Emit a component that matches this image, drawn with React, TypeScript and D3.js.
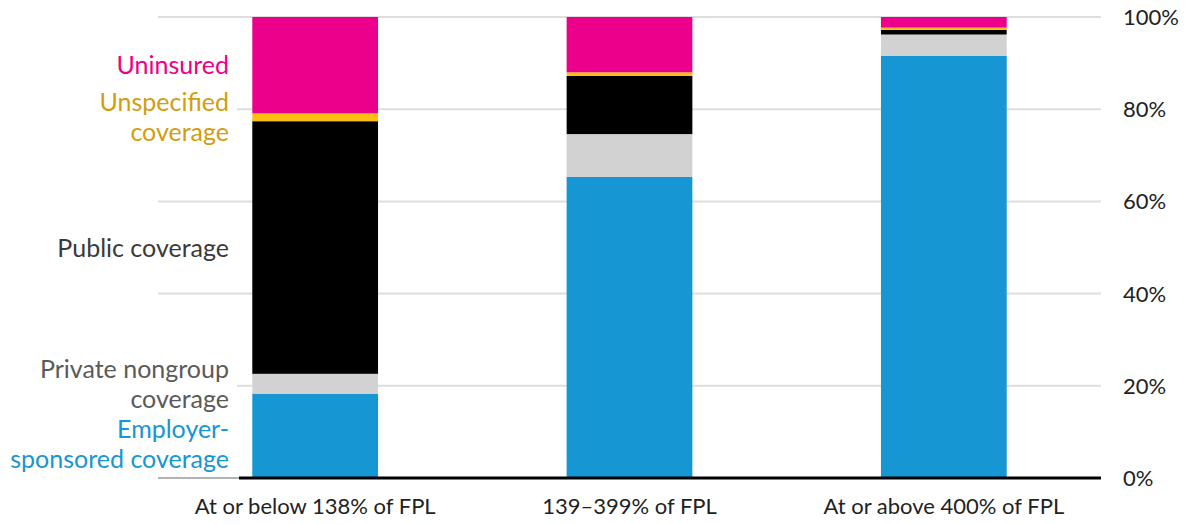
import React from 'react';
import * as d3 from 'd3';

const categories = ['At or below 138% of FPL', '139–399% of FPL', 'At or above 400% of FPL'];
const employer = [18.3, 65.3, 91.6];
const nongroup = [4.3, 9.3, 4.6];
const publicCov = [54.8, 12.6, 1.0];
const unspecified = [1.7, 0.8, 0.5];
const uninsured = [20.9, 12.0, 2.3];
const seriesKeys = ['employer', 'nongroup', 'public', 'unspecified', 'uninsured'];
const seriesLabels = [
  ['Employer-', 'sponsored coverage'],
  ['Private nongroup', 'coverage'],
  ['Public coverage'],
  ['Unspecified', 'coverage'],
  ['Uninsured'],
];
const yTicks = [0, 20, 40, 60, 80, 100];

const fills = ['#1696d2', '#d2d2d2', '#000000', '#fdbf11', '#ec008b'];
const labelColors = ['#1696d2', '#5a5a5a', '#3a3a3a', '#d29d0e', '#ec008b'];

const W = 1190;
const H = 525;
const FONT = 'Lato, "Open Sans", sans-serif';

export default function App() {
  const rows = categories.map((c, i) => ({
    category: c,
    employer: employer[i],
    nongroup: nongroup[i],
    public: publicCov[i],
    unspecified: unspecified[i],
    uninsured: uninsured[i],
  }));
  const stacked = d3.stack<any>().keys(seriesKeys)(rows);

  const x = d3
    .scaleBand()
    .domain(categories)
    .range([158, 1101])
    .paddingInner(0.6)
    .paddingOuter(0.3);
  const y = d3.scaleLinear().domain([0, 100]).range([478, 17]);

  // label positions: centre on the first bar's segments, pushed down to avoid overlap
  const lineH = 30;
  const firstBar = stacked.map((s) => (y(s[0][0]) + y(s[0][1])) / 2);
  const order = [4, 3, 2, 1, 0];
  const centers: number[] = [];
  let prevBottom = -Infinity;
  order.forEach((k) => {
    const half = (seriesLabels[k].length * lineH) / 2;
    const c = Math.max(firstBar[k], prevBottom + half);
    centers[k] = c;
    prevBottom = c + half;
  });

  return (
    <svg
      width={W}
      height={H}
      style={{ position: 'absolute', left: 0, top: 0, fontFamily: FONT }}
    >
      <rect width={W} height={H} fill="#fff" />
      {yTicks.map((t) => (
        <line
          key={t}
          x1={158}
          x2={1101}
          y1={y(t)}
          y2={y(t)}
          stroke={t === 0 ? '#666' : '#dedede'}
          strokeWidth={t === 0 ? 1 : 2}
        />
      ))}
      {yTicks.map((t) => (
        <text
          key={'t' + t}
          x={1123}
          y={y(t)}
          dy="0.36em"
          fontSize={22}
          fill="#222"
        >
          {t}%
        </text>
      ))}
      {seriesLabels.map((lines, k) => (
        <rect
          key={'ko' + k}
          x={150}
          width={87}
          y={centers[k] - (lines.length * lineH) / 2}
          height={lines.length * lineH}
          fill="#fff"
        />
      ))}
      {stacked.map((s, k) => (
        <g key={s.key}>
          {s.map((d, i) => (
            <rect
              key={i}
              x={x(categories[i])}
              width={x.bandwidth()}
              y={y(d[1])}
              height={y(d[0]) - y(d[1])}
              fill={fills[k]}
            />
          ))}
        </g>
      ))}
      <line x1={239} x2={1101} y1={y(0)} y2={y(0)} stroke="#000" strokeWidth={3} />
      {seriesLabels.map((lines, k) => (
        <text
          key={'l' + k}
          x={229}
          textAnchor="end"
          fontSize={25}
          fill={labelColors[k]}
        >
          {lines.map((ln, j) => (
            <tspan
              key={j}
              x={229}
              y={centers[k] - ((lines.length - 1) * lineH) / 2 + j * lineH}
              dy="0.36em"
            >
              {ln}
            </tspan>
          ))}
        </text>
      ))}
      {categories.map((c) => (
        <text
          key={c}
          x={(x(c) as number) + x.bandwidth() / 2}
          y={506}
          dy="0.36em"
          textAnchor="middle"
          fontSize={22}
          fill="#222"
        >
          {c}
        </text>
      ))}
    </svg>
  );
}
